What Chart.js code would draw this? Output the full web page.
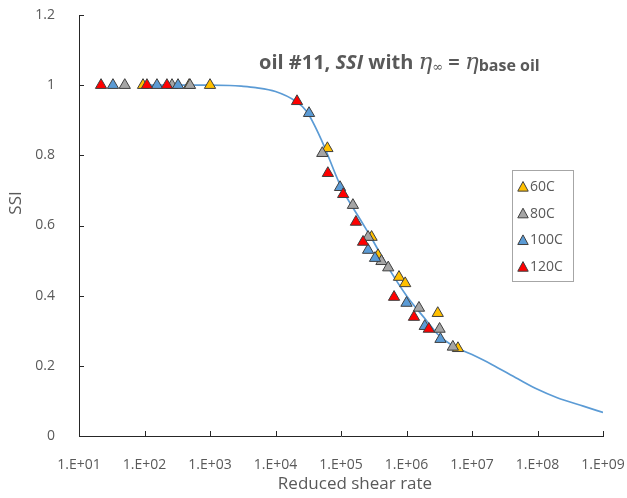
<!DOCTYPE html>
<html>
<head>
<meta charset="utf-8">
<script src="https://cdn.jsdelivr.net/npm/chart.js@4.4.1/dist/chart.umd.min.js"></script>
<style>
  html, body { margin: 0; padding: 0; background: #fff; }
  #wrap { width: 627px; height: 498px; }
</style>
</head>
<body>
<div id="wrap"><canvas id="ssiChart" width="627" height="498"></canvas></div>
<script>
// series labels / colours
const seriesLabels = ['60C', '80C', '100C', '120C'];
const seriesColors = ['#FFC000', '#A5A5A5', '#5B9BD5', '#FF0000'];

// reduced shear rate (x) and SSI (y)
const x60 = [95, 480, 1000, 62000, 293000, 367000, 768000, 955000, 3.0e6, 6.1e6];
const y60 = [1.0, 1.0, 1.0, 0.82, 0.567, 0.515, 0.453, 0.435, 0.35, 0.25];

const x80 = [50, 263, 495, 51800, 152000, 259000, 415000, 526000, 1.55e6, 3.2e6, 5.1e6];
const y80 = [1.0, 1.0, 1.0, 0.806, 0.658, 0.567, 0.498, 0.48, 0.365, 0.305, 0.254];

const x100 = [33, 155, 325, 32500, 96600, 259000, 331000, 1.0e6, 1.9e6, 3.3e6];
const y100 = [1.0, 1.0, 1.0, 0.92, 0.709, 0.53, 0.507, 0.379, 0.313, 0.276];

const x120 = [21.7, 109, 220, 21300, 63000, 108000, 169000, 217000, 646000, 1.3e6, 2.19e6];
const y120 = [1.0, 1.0, 1.0, 0.954, 0.749, 0.689, 0.61, 0.553, 0.396, 0.339, 0.305];

// fitted curve
const curveX = [100, 300, 1000, 2000, 3000, 5000, 1e4, 2e4, 3e4, 5e4, 1e5, 2e5, 3e5, 5e5, 1e6, 2e6, 3e6, 5e6, 1e7, 2e7, 5e7, 1e8, 2e8, 5e8, 1e9];
const curveY = [1.0, 1.0, 1.0, 0.999, 0.997, 0.993, 0.982, 0.955, 0.925, 0.845, 0.71, 0.615, 0.56, 0.487, 0.40, 0.33, 0.29, 0.258, 0.232, 0.204, 0.163, 0.133, 0.109, 0.085, 0.067];

// axis ticks
const xTicks = [1e1, 1e2, 1e3, 1e4, 1e5, 1e6, 1e7, 1e8, 1e9];
const yTicks = [0, 0.2, 0.4, 0.6, 0.8, 1.0, 1.2];

const TEXT = '#595959';
const AXIS = '#262626';
const FONT = '"Open Sans", sans-serif';

function pts(xs, ys) {
    return xs.map((x, i) => ({ x: x, y: ys[i] }));
}

const seriesData = [pts(x60, y60), pts(x80, y80), pts(x100, y100), pts(x120, y120)];

const datasets = seriesLabels.map((label, i) => ({
    label: label,
    data: seriesData[i],
    pointStyle: 'triangle',
    pointRadius: 6.5,
    pointHoverRadius: 6.5,
    backgroundColor: seriesColors[i],
    borderColor: '#3f3f3f',
    borderWidth: 1,
    showLine: false,
    order: 4 - i
}));

datasets.push({
    label: 'fit',
    data: pts(curveX, curveY),
    showLine: true,
    borderColor: '#5B9BD5',
    borderWidth: 1.7,
    pointRadius: 0,
    cubicInterpolationMode: 'monotone',
    order: 10
});

// inner tick marks, axis titles, title and legend box
const decorPlugin = {
    id: 'decor',
    afterDraw(chart) {
        const ctx = chart.ctx;
        const xs = chart.scales.x;
        const ys = chart.scales.y;
        const area = chart.chartArea;

        ctx.save();
        ctx.strokeStyle = AXIS;
        ctx.lineWidth = 1;
        ctx.beginPath();
        xTicks.forEach(v => {
            const px = Math.round(xs.getPixelForValue(v)) + 0.5;
            ctx.moveTo(px, area.bottom);
            ctx.lineTo(px, area.bottom - 5);
        });
        yTicks.forEach(v => {
            const py = Math.round(ys.getPixelForValue(v)) + 0.5;
            ctx.moveTo(area.left, py);
            ctx.lineTo(area.left + 5, py);
        });
        ctx.stroke();

        // axis titles
        ctx.fillStyle = TEXT;
        ctx.font = '17px ' + FONT;
        ctx.textAlign = 'center';
        ctx.textBaseline = 'middle';
        ctx.fillText('Reduced shear rate', 355, 484);
        ctx.save();
        ctx.translate(16, 203);
        ctx.rotate(-Math.PI / 2);
        ctx.fillText('SSI', 0, 0);
        ctx.restore();

        // title with mixed fonts
        const parts = [
            { t: 'oil #11, ', f: 'bold 20px ' + FONT, dy: 0 },
            { t: 'SSI', f: 'italic bold 20px ' + FONT, dy: 0 },
            { t: ' with ', f: 'bold 20px ' + FONT, dy: 0 },
            { t: '\u03B7', f: 'italic 23px "DejaVu Serif"', dy: 0 },
            { t: '\u221E', f: '13px "DejaVu Serif"', dy: 2 },
            { t: ' = ', f: 'bold 20px ' + FONT, dy: 0 },
            { t: '\u03B7', f: 'italic 23px "DejaVu Serif"', dy: 0 },
            { t: 'base oil', f: 'bold 16px ' + FONT, dy: 2 }
        ];
        ctx.textAlign = 'left';
        ctx.textBaseline = 'alphabetic';
        let tx = 259;
        parts.forEach(p => {
            ctx.font = p.f;
            ctx.fillText(p.t, tx, 69 + p.dy);
            tx += ctx.measureText(p.t).width;
        });

        // legend box
        ctx.strokeStyle = '#A6A6A6';
        ctx.strokeRect(512.5, 170.5, 61, 111);
        ctx.font = '14px ' + FONT;
        ctx.textBaseline = 'middle';
        seriesLabels.forEach((label, i) => {
            const cy = 187 + i * 26.7;
            const r = 5.5;
            ctx.fillStyle = seriesColors[i];
            ctx.strokeStyle = '#3f3f3f';
            ctx.beginPath();
            ctx.moveTo(523, cy - r);
            ctx.lineTo(523 + r * 0.95, cy + r * 0.75);
            ctx.lineTo(523 - r * 0.95, cy + r * 0.75);
            ctx.closePath();
            ctx.fill();
            ctx.stroke();
            ctx.fillStyle = TEXT;
            ctx.fillText(label, 530, cy);
        });
        ctx.restore();
    }
};

new Chart(document.getElementById('ssiChart'), {
    type: 'scatter',
    data: { datasets: datasets },
    options: {
        responsive: false,
        animation: false,
        layout: { padding: { left: 0, right: 24, top: 15, bottom: 0 } },
        plugins: {
            legend: { display: false },
            tooltip: { enabled: false },
            title: { display: false }
        },
        scales: {
            x: {
                type: 'logarithmic',
                min: 10,
                max: 1e9,
                afterBuildTicks: scale => { scale.ticks = xTicks.map(v => ({ value: v })); },
                afterFit: scale => {
                    scale.height = 62;
                    scale.paddingLeft = 0;
                    scale.paddingRight = 0;
                },
                grid: { display: false },
                border: { display: true, color: AXIS, width: 1 },
                ticks: {
                    autoSkip: false,
                    maxRotation: 0,
                    padding: 13,
                    color: TEXT,
                    font: { family: FONT, size: 14 },
                    callback: v => '1.E+' + String(Math.round(Math.log10(v))).padStart(2, '0')
                }
            },
            y: {
                min: 0,
                max: 1.2,
                afterBuildTicks: scale => { scale.ticks = yTicks.map(v => ({ value: v })); },
                afterFit: scale => {
                    scale.width = 79;
                    scale.paddingTop = 0;
                    scale.paddingBottom = 0;
                },
                grid: { display: false },
                border: { display: true, color: AXIS, width: 1 },
                ticks: {
                    padding: 16,
                    color: TEXT,
                    font: { family: FONT, size: 14 },
                    callback: v => String(Math.round(v * 10) / 10)
                }
            }
        }
    },
    plugins: [decorPlugin]
});
</script>
</body>
</html>
